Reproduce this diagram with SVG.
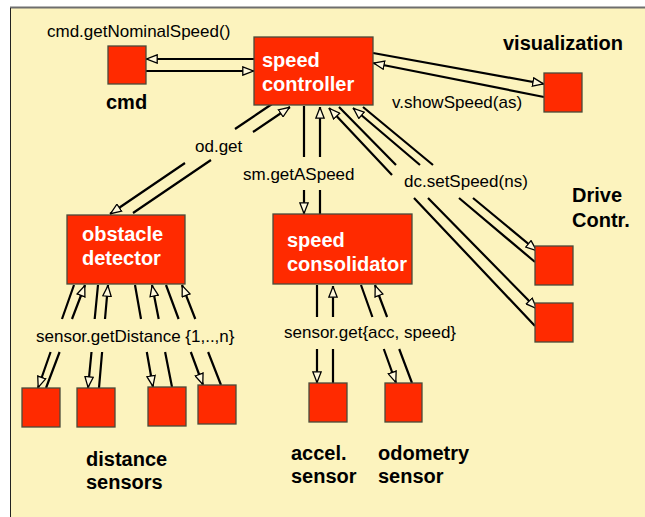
<svg xmlns="http://www.w3.org/2000/svg" width="645" height="517" viewBox="0 0 645 517">
  <style>
    .box { fill: #FF2A00; stroke: #4a4a3a; stroke-width: 1.3; }
    .conn { fill: none; stroke: #000; stroke-width: 2.2; marker-end: url(#arr); }
    .lbl { font-family: "Liberation Sans", Arial, sans-serif; font-size: 17px; fill: #000; }
    .name { font-family: "Liberation Sans", Arial, sans-serif; font-size: 20px; font-weight: bold; fill: #000; }
    .inner { font-family: "Liberation Sans", Arial, sans-serif; font-size: 20px; font-weight: bold; fill: #fff; }
  </style>
  <defs>
    <marker id="arr" viewBox="0 0 12 10" refX="12" refY="5" markerWidth="12" markerHeight="10" markerUnits="userSpaceOnUse" orient="auto">
      <path d="M0.8,0.8 L11.4,5 L0.8,9.2 Z" fill="#FFF9DC" stroke="#000" stroke-width="1.3"/>
    </marker>
  </defs>

  <!-- page background and frame -->
  <rect x="0" y="0" width="645" height="517" fill="#fff"/>
  <rect x="10" y="8" width="635" height="509" fill="#FCF3BE"/>
  <line x1="10" y1="7.5" x2="645" y2="7.5" stroke="#6e6e6e" stroke-width="2"/>
  <line x1="10.5" y1="8" x2="10.5" y2="517" stroke="#222" stroke-width="1"/>

  <!-- connectors -->
  <g id="connectors">
    <path class="conn" d="M254,59 L146,59"/>
    <path class="conn" d="M146,71 L254,71"/>
    <path class="conn" d="M373,53 L544,84"/>
    <path class="conn" d="M544,97 L373,63"/>

    <path class="conn" d="M272,104 L235,129 M185,163 L110,214"/>
    <path class="conn" d="M133,213 L211,160 M253,132 L290,107"/>

    <path class="conn" d="M304,106 L304,157 M304,190 L304,214"/>
    <path class="conn" d="M320,214 L320,190 M320,157 L320,107"/>

    <path class="conn" d="M535,326 L414,198 M392,175 L329,108"/>
    <path class="conn" d="M339,107 L396,165 M428,198 L537,309"/>
    <path class="conn" d="M535,262 L459,198 M420,165 L353,108"/>
    <path class="conn" d="M363,107 L433,165 M473,198 L537,251"/>

    <path class="conn" d="M74,285 L62,319 M50.6,352 L38,388"/>
    <path class="conn" d="M46,388 L59.6,352 M72,319 L85,285"/>
    <path class="conn" d="M98,285 L94.7,319 M91.5,352 L88,388"/>
    <path class="conn" d="M99,388 L102.1,352 M105,319 L108,285"/>
    <path class="conn" d="M135,285 L141,319 M146.8,352 L153,387"/>
    <path class="conn" d="M172,387 L165.1,352 M158.7,319 L152,285"/>
    <path class="conn" d="M166,285 L178.6,319 M190.8,352 L203,385"/>
    <path class="conn" d="M221,385 L208.1,352 M195.3,319 L182,285"/>

    <path class="conn" d="M317,285 L317,317 M317,349 L317,383"/>
    <path class="conn" d="M333,383 L333,349 M333,317 L333,286"/>
    <path class="conn" d="M361,285 L372.4,317 M383.8,349 L396,383"/>
    <path class="conn" d="M412,383 L399.2,349 M387.1,317 L375,285"/>

    <text class="lbl" x="47" y="37">cmd.getNominalSpeed()</text>
    <text class="lbl" x="392" y="108">v.showSpeed(as)</text>
    <text class="lbl" x="195" y="152">od.get</text>
    <text class="lbl" x="243" y="180">sm.getASpeed</text>
    <text class="lbl" x="404" y="187">dc.setSpeed(ns)</text>
    <text class="lbl" x="36" y="342">sensor.getDistance {1,..,n}</text>
    <text class="lbl" x="284" y="338">sensor.get{acc, speed}</text>
  </g>

  <!-- nodes -->
  <g id="speed-controller">
    <rect class="box" x="254" y="37" width="119" height="68"/>
    <text class="inner" x="262" y="67">speed</text>
    <text class="inner" x="262" y="91">controller</text>
  </g>
  <g id="cmd">
    <rect class="box" x="108" y="46" width="38" height="38"/>
    <text class="name" x="106" y="109">cmd</text>
  </g>
  <g id="visualization">
    <rect class="box" x="544" y="73" width="38" height="39"/>
    <text class="name" x="503" y="50">visualization</text>
  </g>
  <g id="obstacle-detector">
    <rect class="box" x="67" y="215" width="118" height="69"/>
    <text class="inner" x="82" y="241">obstacle</text>
    <text class="inner" x="82" y="265">detector</text>
  </g>
  <g id="speed-consolidator">
    <rect class="box" x="273" y="214" width="139" height="70"/>
    <text class="inner" x="287" y="247">speed</text>
    <text class="inner" x="287" y="271">consolidator</text>
  </g>
  <g id="drive-controllers">
    <rect class="box" x="535" y="246" width="38" height="39"/>
    <rect class="box" x="535" y="303" width="38" height="39"/>
    <text class="name" x="572" y="202">Drive</text>
    <text class="name" x="572" y="227">Contr.</text>
  </g>
  <g id="distance-sensors">
    <rect class="box" x="22" y="388" width="38" height="39"/>
    <rect class="box" x="77" y="388" width="38" height="39"/>
    <rect class="box" x="148" y="387" width="38" height="39"/>
    <rect class="box" x="198" y="385" width="38" height="39"/>
    <text class="name" x="86" y="466">distance</text>
    <text class="name" x="86" y="489">sensors</text>
  </g>
  <g id="accel-sensor">
    <rect class="box" x="309" y="383" width="38" height="39"/>
    <text class="name" x="291" y="460">accel.</text>
    <text class="name" x="291" y="483">sensor</text>
  </g>
  <g id="odometry-sensor">
    <rect class="box" x="385" y="383" width="37" height="39"/>
    <text class="name" x="378" y="460">odometry</text>
    <text class="name" x="378" y="483">sensor</text>
  </g>
</svg>
